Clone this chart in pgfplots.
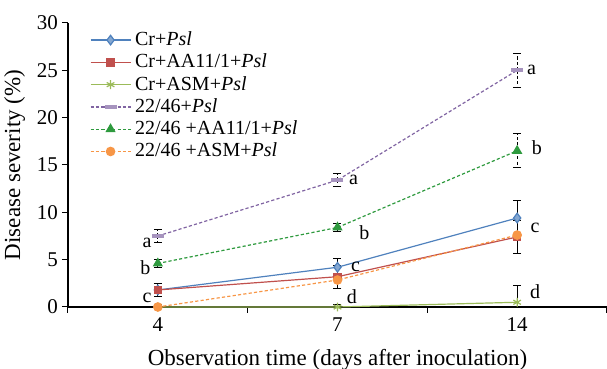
\documentclass[border=0pt]{standalone}
\usepackage{pgfplots}
\pgfplotsset{compat=1.18}
\usepackage{fontspec}
\setmainfont{Liberation Serif}
\definecolor{cblue}{HTML}{4F81BD}
\definecolor{cred}{HTML}{C0504D}
\definecolor{cgreen}{HTML}{9BBB59}
\definecolor{cpurple}{HTML}{8064A2}
\definecolor{cdgreen}{HTML}{2E9A3E}
\definecolor{corange}{HTML}{F79646}
\begin{document}
\begin{tikzpicture}
\begin{axis}[
  scale only axis, width=269.5pt, height=142pt,
  xmin=0, xmax=3, ymin=0, ymax=30,
  axis x line*=bottom, axis y line*=left,
  axis line style={-, line width=1.1pt},
  ytick={0,5,...,30},
  xtick={0,1,2,3}, xticklabels={},
  extra x ticks={0.5,1.5,2.5}, extra x tick labels={4,7,14},
  extra x tick style={major tick length=0pt, xticklabel style={yshift=-2pt}},
  tick align=outside, major tick length=3pt,
  tick style={black, line width=0.5pt},
  ticklabel style={font=\fontsize{10.5}{11}\selectfont},
  yticklabel style={xshift=1.5pt},
  /pgf/number format/assume math mode=true,
  xlabel={Observation time (days after inoculation)},
  ylabel={Disease severity (\%)},
  label style={font=\fontsize{11.5}{12}\selectfont},
  xlabel style={yshift=1pt},
  ylabel style={yshift=-1pt},
  clip=false,
  legend style={draw=none, fill=none, at={(rel axis cs:0.04,0.985)}, anchor=north west,
    font=\fontsize{10}{10}\selectfont, row sep=-1.3pt, inner sep=0pt},
  legend cell align=left,
  legend image code/.code={\draw[mark repeat=2,mark phase=2] plot coordinates {(0pt,0pt) (10pt,0pt) (20pt,0pt)};},
  error bars/error bar style={black, line width=0.5pt},
  error bars/error mark options={black, rotate=90, mark size=2pt, line width=0.5pt},
]
\addplot[cblue, line width=0.6pt, mark=diamond*, mark size=2.4pt, mark options={fill=cblue!70}, error bars/.cd, y dir=both, y explicit]
  coordinates {(0.5,1.8) +- (0,0.7) (1.5,4.2) +- (0,0.9) (2.5,9.4) +- (0,1.9)};
\addlegendentry{Cr+\textit{Psl}}
\addplot[cred, line width=0.6pt, mark=square*, mark size=1.8pt, mark options={fill=cred}, error bars/.cd, y dir=both, y explicit]
  coordinates {(0.5,1.8) +- (0,0.7) (1.5,3.2) +- (0,1.2) (2.5,7.4) +- (0,1.7)};
\addlegendentry{Cr+AA11/1+\textit{Psl}}
\addplot[cgreen, line width=0.6pt, mark=asterisk, mark size=2.2pt, mark options={solid}, error bars/.cd, y dir=plus, y explicit]
  coordinates {(0.5,0) += (0,0.3) (1.5,0) += (0,0.3) (2.5,0.5) += (0,1.8)};
\addlegendentry{Cr+ASM+\textit{Psl}}
\addplot[cpurple, line width=0.6pt, dash pattern=on 1.6pt off 1.1pt, mark=-, mark size=3pt, mark options={solid, line width=2pt, cpurple!70}, error bars/.cd, y dir=both, y explicit]
  coordinates {(0.5,7.5) +- (0,0.7) (1.5,13.4) +- (0,0.7) (2.5,25.0) +- (0,1.8)};
\addlegendentry{22/46+\textit{Psl}}
\addplot[cdgreen, line width=0.6pt, dash pattern=on 1.6pt off 1.1pt, mark=triangle*, mark size=2.4pt, mark options={solid, fill=cdgreen}, error bars/.cd, y dir=both, y explicit]
  coordinates {(0.5,4.6) +- (0,0.4) (1.5,8.4) +- (0,0.4) (2.5,16.5) +- (0,1.8)};
\addlegendentry{22/46 +AA11/1+\textit{Psl}}
\addplot[corange, line width=0.6pt, dash pattern=on 1.6pt off 1.1pt, mark=*, mark size=2.1pt, mark options={solid, fill=corange}, error bars/.cd, y dir=plus, y explicit]
  coordinates {(0.5,0) += (0,0.2) (1.5,2.85) += (0,0.6) (2.5,7.6) += (0,1.5)};
\addlegendentry{22/46 +ASM+\textit{Psl}}
\begin{scope}[font=\fontsize{10}{10}\selectfont]
\node at (axis cs:0.44,6.8) {a};
\node at (axis cs:0.43,4.2) {b};
\node at (axis cs:0.44,0.95) {c};
\node at (axis cs:1.59,13.4) {a};
\node at (axis cs:1.65,7.9) {b};
\node at (axis cs:1.60,4.2) {c};
\node at (axis cs:1.58,1.05) {d};
\node at (axis cs:2.58,25.0) {a};
\node at (axis cs:2.61,16.8) {b};
\node at (axis cs:2.60,8.4) {c};
\node at (axis cs:2.60,1.6) {d};
\end{scope}
\coordinate (bl) at (rel axis cs:0,0);
\coordinate (tr) at (rel axis cs:1,1);
\end{axis}
\pgfresetboundingbox
\path[use as bounding box] ([xshift=-34pt,yshift=-31pt]bl) rectangle ([yshift=11.5pt]tr);
\end{tikzpicture}
\end{document}
